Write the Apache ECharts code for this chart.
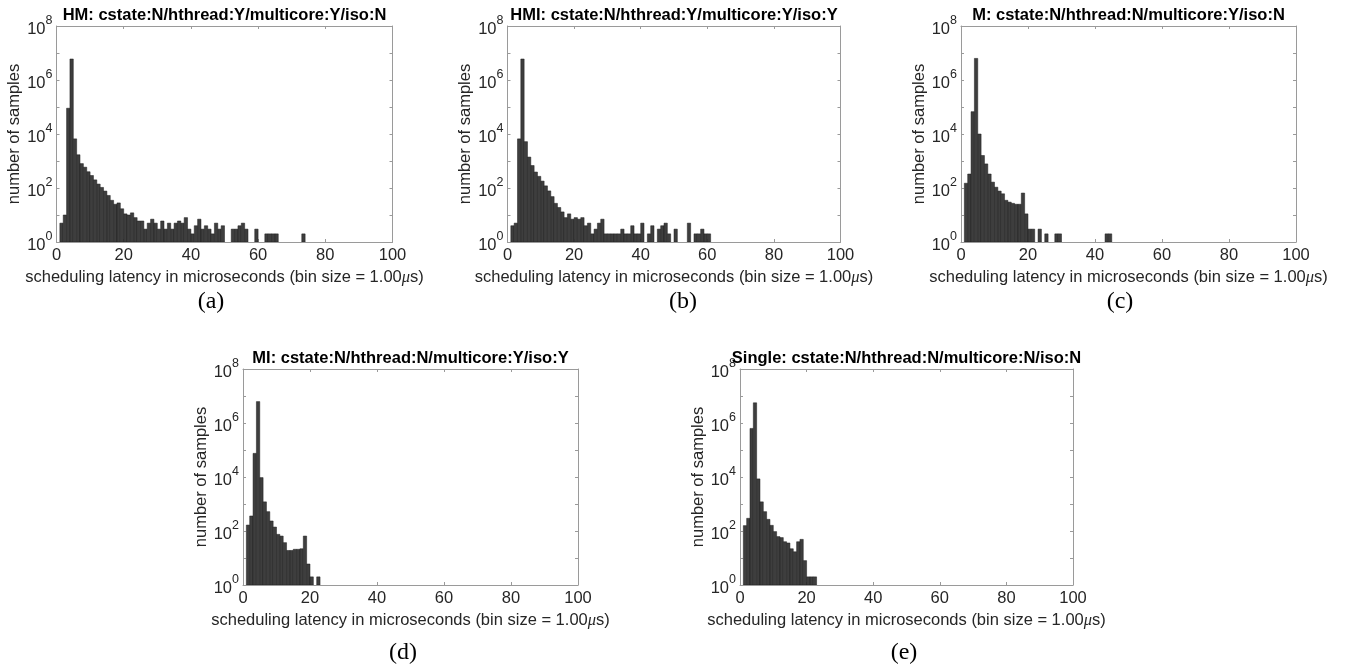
<!DOCTYPE html>
<html><head><meta charset="utf-8">
<script src="https://cdn.jsdelivr.net/npm/echarts@6/dist/echarts.min.js"></script>
<style>html,body{margin:0;padding:0;background:#fff}#c{width:1352px;height:666px}</style>
</head><body><div id="c"></div>
<script>
// ---- data (counts per 1 µs bin, first bin = [1,2) µs) ----
const firstBin = 1;
const countsHM = [5,10,90000,6000000,6600,1700,800,590,400,290,200,140,105,77,53,35,25,28,17,11,10,12,8,6,6,3,5,7,5,3,6,3,5,3,5,6,5,8,3,2,4,7,3,4,3,2,5,3,4,0,0,3,3,4,5,3,0,0,3,0,0,2,2,2,2,0,0,0,0,0,0,0,2];
const countsHMI = [4,5,6600,6000000,5200,1400,680,390,270,180,120,78,48,27,19,13,8,11,7,8,7,8,4,5,2,3,5,7,2,2,2,2,2,3,2,2,4,2,2,5,0,2,4,0,3,4,5,2,0,3,0,0,0,5,0,2,2,3,2,2];
const countsM = [150,330,67000,6300000,10000,1600,780,330,165,107,77,61,35,30,27,25,25,65,11,3,3,0,3,0,2,0,0,2,2,0,0,0,0,0,0,0,0,0,0,0,0,0,2,2];
const countsMI = [166,360,75000,6200000,9500,1200,520,235,140,75,65,37,19,19,21,21,22,65,6,2,0,2];
const countsSingle = [158,295,630000,5600000,8500,1200,520,270,162,95,62,57,40,36,22,17,40,49,8,2,2,2];
const panelCounts = [countsHM, countsHMI, countsM, countsMI, countsSingle];
const panelTitles = [
  'HM: cstate:N/hthread:Y/multicore:Y/iso:N',
  'HMI: cstate:N/hthread:Y/multicore:Y/iso:Y',
  'M: cstate:N/hthread:N/multicore:Y/iso:N',
  'MI: cstate:N/hthread:N/multicore:Y/iso:Y',
  'Single: cstate:N/hthread:N/multicore:N/iso:N'
];
const panelCaptions = ['(a)','(b)','(c)','(d)','(e)'];
const xTickValues = [0,20,40,60,80,100];
const yLabelExponents = [0,2,4,6,8];
const xName = 'scheduling latency in microseconds (bin size = 1.00{mu|μ}s)';
const yName = 'number of samples';

// ---- layout ----
const grids = [
  {left:56.5, top:26, width:336, height:216},
  {left:507.5, top:26, width:333, height:216},
  {left:961, top:26, width:335, height:216},
  {left:243, top:369, width:335, height:216},
  {left:740, top:369, width:333, height:216}
];
const captionPos = [[211,302],[683,302],[1120,302],[403,653],[904,653]];
const FONT = '"Liberation Sans", Arial, sans-serif';
const AX = '#9a9a9a';
const TXT = '#262626';

const xAxes = [], yAxes = [], series = [], graphics = [];
grids.forEach((g, i) => {
  xAxes.push({
    type:'value', gridIndex:i, min:xTickValues[0], max:xTickValues[xTickValues.length-1], interval:20,
    position:'bottom',
    axisLine:{show:true, onZero:false, lineStyle:{color:AX, width:1}},
    axisTick:{show:true, inside:true, length:3, lineStyle:{color:AX}},
    axisLabel:{fontSize:16.5, fontFamily:FONT, color:TXT, margin:5},
    splitLine:{show:false},
    name:xName, nameLocation:'middle', nameGap:27,
    nameTextStyle:{fontSize:16.5, fontFamily:FONT, color:TXT,
      rich:{mu:{fontSize:16.5, fontFamily:'"Liberation Serif", serif', fontStyle:'italic', color:TXT}}}
  });
  xAxes.push({
    type:'value', gridIndex:i, min:0, max:100, interval:20, position:'top',
    axisLine:{show:true, onZero:false, lineStyle:{color:AX, width:1}},
    axisTick:{show:true, inside:true, length:3, lineStyle:{color:AX}},
    axisLabel:{show:false}, splitLine:{show:false}
  });
  const yCommon = {
    type:'log', logBase:10, gridIndex:i, min:1, max:1e8, interval:1,
    axisLine:{show:true, onZero:false, lineStyle:{color:AX, width:1}},
    axisTick:{show:true, inside:true, length:3, lineStyle:{color:AX}},
    splitLine:{show:false}
  };
  yAxes.push(Object.assign({}, yCommon, {
    position:'left',
    axisLabel:{
      margin:4,
      formatter: v => {
        const e = Math.round(Math.log10(v));
        return yLabelExponents.indexOf(e) >= 0 ? '{b|10}{s|' + e + '}' : '';
      },
      rich:{
        b:{fontSize:16.5, fontFamily:FONT, color:TXT, lineHeight:24, verticalAlign:'bottom'},
        s:{fontSize:12.5, fontFamily:FONT, color:TXT, lineHeight:24, verticalAlign:'top'}
      }
    },
    name:yName, nameLocation:'middle', nameGap:33, nameRotate:90,
    nameTextStyle:{fontSize:16.5, fontFamily:FONT, color:TXT}
  }));
  yAxes.push(Object.assign({}, yCommon, {position:'right', axisLabel:{show:false}}));

  series.push({
    type:'custom', xAxisIndex:2*i, yAxisIndex:2*i, clip:true,
    encode:{x:0, y:1},
    data: panelCounts[i].map((c,k) => [firstBin + k, c]).filter(d => d[1] > 0),
    renderItem: (params, api) => {
      const x0 = api.value(0), v = api.value(1);
      const p1 = api.coord([x0, v]);
      const p2 = api.coord([x0 + 1, 1]);
      return {type:'rect', shape:{x:p1[0], y:p1[1], width:p2[0]-p1[0], height:p2[1]-p1[1]},
        style:{fill:'#3e3e3e', stroke:'#1c1c1c', lineWidth:0.5}};
    }
  });

  graphics.push({type:'text', z:100, x:g.left + g.width/2, y:g.top - 11,
    style:{text:panelTitles[i], font:'bold 16.5px ' + FONT, fill:'#000', textAlign:'center', textVerticalAlign:'middle'}});
  graphics.push({type:'text', z:100, x:captionPos[i][0], y:captionPos[i][1],
    style:{text:panelCaptions[i], font:'24px "Liberation Serif", "Times New Roman", serif', fill:'#000', textAlign:'center', textVerticalAlign:'middle'}});
});

const chart = echarts.init(document.getElementById('c'), null, {renderer:'canvas'});
chart.setOption({
  backgroundColor:'#fff', animation:false,
  grid: grids.map(g => Object.assign({containLabel:false}, g)),
  xAxis:xAxes, yAxis:yAxes, series:series, graphic:graphics
});
</script></body></html>
